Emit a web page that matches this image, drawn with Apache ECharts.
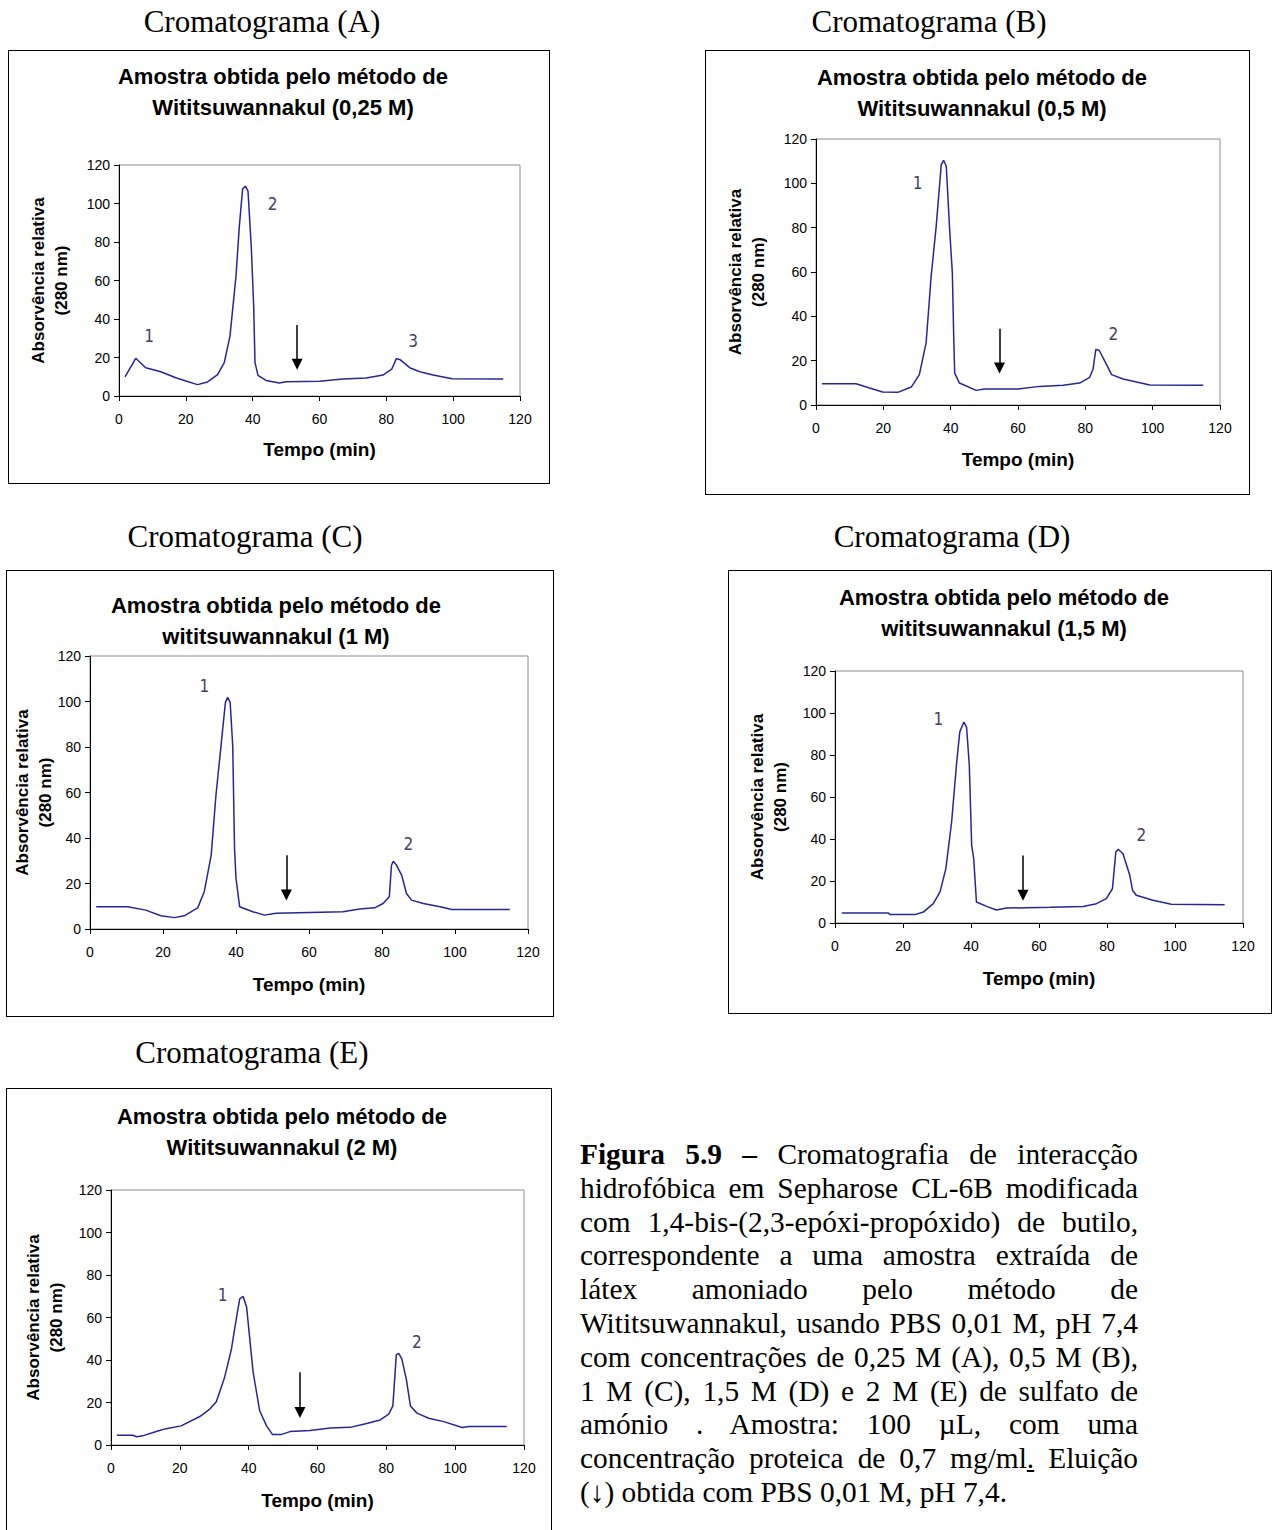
<!DOCTYPE html>
<html lang="pt">
<head>
  <meta charset="UTF-8">
  <title>Cromatogramas</title>
  <style>
    body { margin: 0; width: 1275px; height: 1530px; background: #fff; position: relative; overflow: hidden; }
    .head { position: absolute; font-family: 'Liberation Serif', 'Times New Roman', serif; font-size: 31px; line-height: 36px; transform: translateX(-50%); white-space: nowrap; }
    .box { position: absolute; border: 1px solid #000; box-sizing: border-box; }
    .box > div { width: 100%; height: 100%; }
    #caption { position: absolute; left: 580px; top: 1138px; width: 558px; font-family: 'Liberation Serif', 'Times New Roman', serif; font-size: 29.4px; line-height: 33.8px; text-align: justify; }
  </style>
</head>
<body>
  <div class="head" style="left:262px; top:4px">Cromatograma (A)</div>
  <div class="head" style="left:929px; top:4px">Cromatograma (B)</div>
  <div class="head" style="left:245px; top:519px">Cromatograma (C)</div>
  <div class="head" style="left:952px; top:519px">Cromatograma (D)</div>
  <div class="head" style="left:252px; top:1035px">Cromatograma (E)</div>

  <div class="box" style="left:8px; top:50px; width:542px; height:434px"><div id="chartA"></div></div>
  <div class="box" style="left:705px; top:50px; width:545px; height:445px"><div id="chartB"></div></div>
  <div class="box" style="left:6px; top:570px; width:548px; height:447px"><div id="chartC"></div></div>
  <div class="box" style="left:728px; top:570px; width:544px; height:444px"><div id="chartD"></div></div>
  <div class="box" style="left:6px; top:1088px; width:546px; height:450px"><div id="chartE"></div></div>

  <div id="caption"><b>Figura 5.9 –</b> Cromatografia de interacção hidrofóbica em Sepharose CL-6B modificada com 1,4-bis-(2,3-epóxi-propóxido) de butilo, correspondente a uma amostra extraída de látex amoniado pelo método de Wititsuwannakul, usando PBS 0,01 M, pH 7,4 com concentrações de 0,25 M (A), 0,5 M (B), 1 M (C), 1,5 M (D) e 2 M (E) de sulfato de amónio . Amostra: 100 µL, com uma concentração proteica de 0,7 mg/ml<u>.</u> Eluição (↓) obtida com PBS 0,01 M, pH 7,4.</div>
</body>
<script src="https://cdn.jsdelivr.net/npm/echarts@6/dist/echarts.min.js"></script>
<script>
  // tempo (min), absorvência relativa
  const curveA = [[1.8,9.9],[5,19.6],[8,14.7],[12.5,12.6],[17,9.5],[20,7.8],[23.5,5.9],[26.5,7.3],[29.5,11.1],[31.5,17.3],[33.2,31],[35,62],[36,88],[37,107.7],[37.8,109],[38.6,106.5],[39.6,77],[40.3,46.8],[40.7,17.3],[41.6,10.7],[44,8.1],[48,6.8],[50,7.4],[60,7.6],[67,8.8],[74,9.4],[79,10.9],[81.6,13.9],[83,19.4],[84,19],[87,14.7],[90,12.6],[94,10.9],[99.7,9],[115,8.8]];
  const curveB = [[1.8,9.6],[11.9,9.6],[15.9,7.7],[19.8,5.9],[24.3,5.7],[28.3,8.1],[30.7,13.7],[32.7,28],[34.2,58],[35.7,80.6],[37.2,108.4],[37.9,110.4],[38.7,107.7],[39.7,79],[40.5,59.5],[40.9,31],[41.2,14.4],[42.6,9.9],[47.6,6.6],[50,7.2],[60,7.2],[66.4,8.4],[73.4,8.9],[78.3,9.9],[81.3,12.5],[82.3,16.2],[83.1,25],[84.1,24.7],[86.3,18.2],[87.8,13.7],[91.2,11.7],[99.2,9],[115,8.9]];
  const curveC = [[1.7,9.8],[10.3,9.8],[15.3,8.3],[19.4,5.8],[23.1,5],[25.8,5.8],[29.5,9.3],[31.3,16.4],[33.2,32.4],[34.5,58.7],[35.9,80.6],[37.1,99.6],[37.7,101.8],[38.4,99.6],[39.1,80.6],[39.6,35.3],[40,22.2],[41,9.8],[44.6,7.6],[47.8,6.1],[51,6.9],[60.2,7.3],[69.3,7.6],[73.9,8.8],[78,9.3],[80.3,11.2],[82,14.2],[82.6,28],[83.1,29.8],[84,28],[85.4,23.6],[86.7,15.6],[88.1,12.7],[91.3,11.2],[95.9,9.8],[99.1,8.6],[115,8.6]];
  const curveD = [[2,4.8],[15.7,4.8],[16.2,4],[23.5,4],[26,5.2],[28.9,9.2],[30.9,14.8],[32.6,25.9],[34.3,48.1],[35.8,76.7],[36.7,91],[37.9,95.7],[38.7,93.3],[39.5,75.1],[40.2,37],[40.8,30.6],[41.6,10],[44.6,7.9],[47.5,6.2],[50.4,7.1],[63.2,7.5],[73,7.9],[76.9,9.2],[79.8,11.6],[81.6,16.3],[82.6,33.8],[83.3,35.1],[84.7,33],[86.7,22.7],[87.5,15.6],[88.6,13.2],[93.5,10.8],[98.9,8.9],[114.6,8.7]];
  const curveE = [[1.7,4.6],[6.3,4.6],[7.5,3.9],[9.2,4.3],[13.6,6.6],[16,7.7],[20.4,9],[25.8,13.4],[28.7,16.9],[30.6,20.3],[33,31.8],[35,45.2],[36.4,59.4],[37.4,68.8],[38.4,69.9],[39.4,64.9],[41.3,34.2],[43.2,16.1],[45.2,9],[46.9,5],[49.6,5],[52,6.3],[57.8,6.8],[63.7,8],[69.5,8.3],[74.3,10.1],[78.2,11.8],[80.7,14.5],[81.9,18.4],[82.9,42.4],[83.6,43.1],[84.5,40.5],[85.8,31],[87,18.4],[88.9,15],[92.3,12.6],[96.7,11],[102,8.2],[104,8.7],[115,8.7]];

  // rótulos dos picos: [tempo, absorvência, texto]
  const peaksA = [[9,31,'1'],[46,99.6,'2'],[88,28.6,'3']];
  const peaksB = [[30.2,100,'1'],[88.3,32.2,'2']];
  const peaksC = [[31.3,106.9,'1'],[87.2,37.5,'2']];
  const peaksD = [[30.4,97.3,'1'],[90.1,41.7,'2']];
  const peaksE = [[32.4,70.4,'1'],[88.9,48.3,'2']];

  // seta de eluição: [tempo, topo, ponta]
  const arrowA = [53.3, 36.9, 16.5];
  const arrowB = [54.5, 34.4, 16.7];
  const arrowC = [53.8, 32.4, 14.9];
  const arrowD = [55.3, 32.2, 13.2];
  const arrowE = [54.9, 34.2, 15.3];

  const titles = [
    'Amostra obtida pelo método de\nWititsuwannakul (0,25 M)',
    'Amostra obtida pelo método de\nWititsuwannakul (0,5 M)',
    'Amostra obtida pelo método de\nwititsuwannakul (1 M)',
    'Amostra obtida pelo método de\nwititsuwannakul (1,5 M)',
    'Amostra obtida pelo método de\nWititsuwannakul (2 M)'
  ];
  const axisTicks = [0, 20, 40, 60, 80, 100, 120];

  const lineColor = '#262696';
  const sans = "'Liberation Sans', Arial, sans-serif";

  function makeChart(id, title, curve, peaks, arrow, lay) {
    const chart = echarts.init(document.getElementById(id), null, { renderer: 'svg' });
    chart.setOption({
      animation: false,
      title: {
        text: title,
        left: lay.titleX,
        top: lay.titleTop,
        textAlign: 'center',
        textStyle: { fontFamily: sans, fontSize: 22, fontWeight: 'bold', lineHeight: 31, color: '#000' }
      },
      grid: {
        left: lay.left, top: lay.top, width: lay.width, height: lay.height,
        outerBoundsMode: 'none', containLabel: false,
        show: true, borderColor: '#8c8c8c', borderWidth: 1, backgroundColor: '#fff'
      },
      xAxis: {
        type: 'value', min: axisTicks[0], max: axisTicks[axisTicks.length - 1], interval: 20,
        name: 'Tempo (min)', nameLocation: 'middle', nameGap: lay.xGap, nameMoveOverlap: false,
        nameTextStyle: { fontFamily: sans, fontSize: 19, fontWeight: 'bold', color: '#000' },
        axisLine: { lineStyle: { color: '#000', width: 1 } },
        axisTick: { length: 5, lineStyle: { color: '#000' } },
        axisLabel: { fontFamily: sans, fontSize: 14, color: '#000', margin: 16 },
        splitLine: { show: false }
      },
      yAxis: {
        type: 'value', min: axisTicks[0], max: axisTicks[axisTicks.length - 1], interval: 20,
        name: 'Absorvência relativa\n(280 nm)', nameLocation: 'middle', nameGap: lay.yGap, nameMoveOverlap: false,
        nameTextStyle: { fontFamily: sans, fontSize: 17, fontWeight: 'bold', color: '#000', lineHeight: 23 },
        axisLine: { show: true, lineStyle: { color: '#000', width: 1 } },
        axisTick: { show: true, length: 5, lineStyle: { color: '#000' } },
        axisLabel: { fontFamily: sans, fontSize: 14, color: '#000', margin: 9 },
        splitLine: { show: false }
      },
      series: [{
        type: 'line',
        data: curve,
        showSymbol: false,
        smooth: false,
        lineStyle: { color: lineColor, width: 1.5 },
        silent: true,
        markPoint: {
          silent: true,
          symbol: 'circle',
          symbolSize: 0,
          label: {
            show: true, position: 'inside', formatter: '{b}',
            fontFamily: "'Liberation Sans Narrow', 'DejaVu Sans Condensed', sans-serif",
            fontSize: 17, color: '#43406a'
          },
          data: peaks.map(p => ({ name: p[2], coord: [p[0], p[1]] }))
        },
        markLine: {
          silent: true,
          symbol: ['none', 'triangle'],
          symbolSize: 11,
          label: { show: false },
          lineStyle: { color: '#000', width: 1.5, type: 'solid' },
          data: [[{ coord: [arrow[0], arrow[1]] }, { coord: [arrow[0], arrow[2]] }]]
        }
      }]
    });
    return chart;
  }

  makeChart('chartA', titles[0], curveA, peaksA, arrowA,
    { titleX: 269, titleTop: 5, left: 110, top: 114, width: 401, height: 231, xGap: 44, yGap: 46 });
  makeChart('chartB', titles[1], curveB, peaksB, arrowB,
    { titleX: 271, titleTop: 6, left: 110, top: 88, width: 404, height: 266, xGap: 45, yGap: 46 });
  makeChart('chartC', titles[2], curveC, peaksC, arrowC,
    { titleX: 264, titleTop: 14, left: 83, top: 85, width: 438, height: 273, xGap: 46, yGap: 33 });
  makeChart('chartD', titles[3], curveD, peaksD, arrowD,
    { titleX: 270, titleTop: 6, left: 106, top: 100, width: 408, height: 252, xGap: 46, yGap: 43 });
  makeChart('chartE', titles[4], curveE, peaksE, arrowE,
    { titleX: 270, titleTop: 7, left: 104, top: 101, width: 413, height: 255, xGap: 46, yGap: 43 });
</script>
</html>
